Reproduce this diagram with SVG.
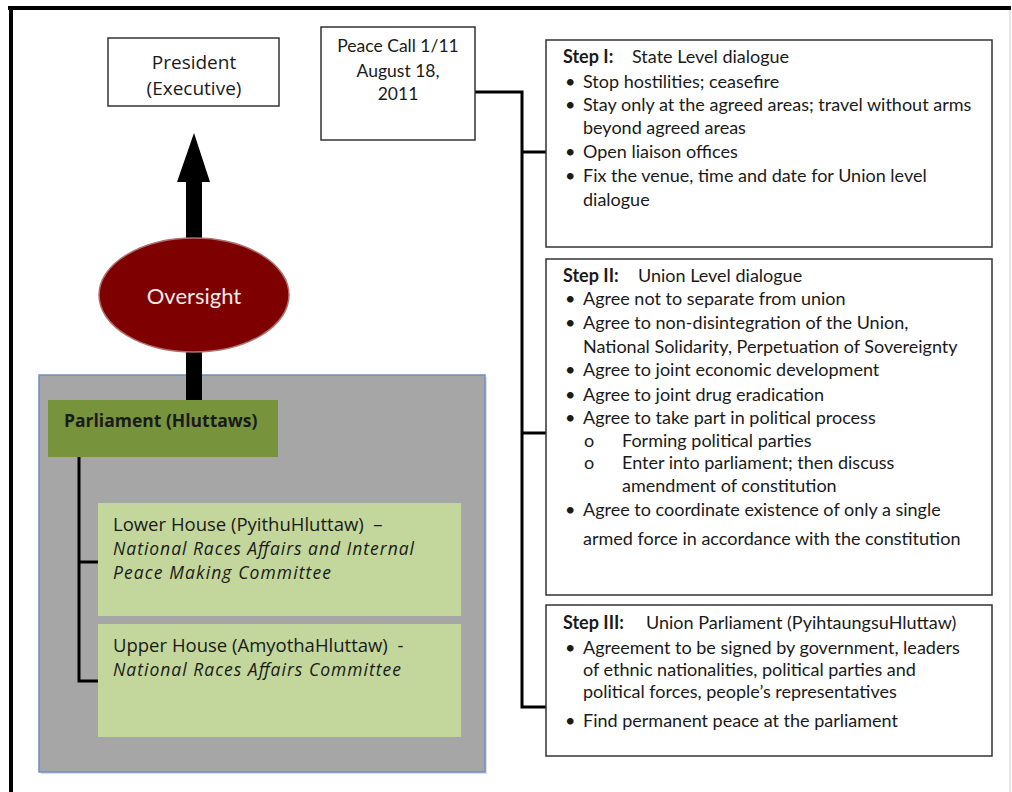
<svg xmlns="http://www.w3.org/2000/svg" width="1012" height="792" viewBox="0 0 1012 792">
<style>
text{font-family:Lato,"Liberation Sans",sans-serif;fill:#1a1a1a;font-size:18px}
.s{font-family:"Open Sans","DejaVu Sans",sans-serif;font-size:18.5px}
.box{fill:#fff;stroke:#333;stroke-width:1.5}
.c{text-anchor:middle}
.b{font-weight:bold}
.i{font-style:italic;font-size:17.5px}
.conn{fill:none;stroke:#000;stroke-width:3}
</style>
<rect width="1012" height="792" fill="#fff"/>
<g id="frame">
<line x1="8" y1="8" x2="1011" y2="8" stroke="#000" stroke-width="4"/>
<line x1="11" y1="6" x2="11" y2="792" stroke="#000" stroke-width="4"/>
<line x1="1010" y1="10" x2="1010" y2="792" stroke="#ccc" stroke-width="1"/>
</g>
<g id="parliament-area">
<rect x="41" y="377" width="446" height="397" fill="#ddd"/>
<rect x="39" y="375" width="446" height="397" fill="#a6a6a6" stroke="#6f8fc0" stroke-width="1.5"/>
</g>
<g id="connectors">
<polygon points="194,133 210,182 202,182 202,401 186,401 186,182 177,182" fill="#000"/>
<polyline class="conn" points="475,92 522,92 522,707 546,707"/>
<line class="conn" x1="522" y1="152" x2="546" y2="152"/>
<line class="conn" x1="522" y1="433" x2="546" y2="433"/>
<polyline class="conn" points="79,457 79,681 98,681"/>
<line class="conn" x1="79" y1="562" x2="98" y2="562"/>
</g>
<g id="president">
<rect class="box" x="108" y="38" width="171" height="68"/>
<text class="c s" x="194" y="69" style="font-size:19px">President</text>
<text class="c s" x="194" y="95" style="font-size:19px">(Executive)</text>
</g>
<g id="peace-call">
<rect class="box" x="321" y="27" width="154" height="113"/>
<text class="c" x="398" y="52" style="font-size:17.5px">Peace Call 1/11</text>
<text class="c" x="398" y="77" style="font-size:17.5px">August 18,</text>
<text class="c" x="398" y="100" style="font-size:17.5px">2011</text>
</g>
<g id="oversight">
<ellipse cx="194" cy="295" rx="95" ry="57" fill="#7f0000" stroke="#b07070" stroke-width="1.5"/>
<text class="c" x="194" y="304" style="fill:#f4e8e8;font-size:22px">Oversight</text>
</g>
<g id="parliament">
<rect x="48" y="400" width="230" height="57" fill="#77933c"/>
<text class="b s" x="64" y="427" style="font-size:17.5px">Parliament (Hluttaws)</text>
</g>
<g id="lower-house">
<rect x="98" y="503" width="363" height="113" fill="#c3d69b"/>
<text class="s" x="113" y="531">Lower House (PyithuHluttaw) &#160;–</text>
<text class="s i" x="113" y="555" textLength="301">National Races Affairs and Internal</text>
<text class="s i" x="113" y="579" textLength="218">Peace Making Committee</text>
</g>
<g id="upper-house">
<rect x="98" y="624" width="363" height="113" fill="#c3d69b"/>
<text class="s" x="113" y="652">Upper House (AmyothaHluttaw) &#160;-</text>
<text class="s i" x="113" y="676" textLength="288">National Races Affairs Committee</text>
</g>
<g id="step1">
<rect class="box" x="546" y="40" width="446" height="207"/>
<text x="563" y="63"><tspan class="b">Step I:</tspan><tspan x="632">State Level dialogue</tspan></text>
<text x="565" y="88">•</text><text x="583" y="88">Stop hostilities; ceasefire</text>
<text x="565" y="111">•</text><text x="583" y="111">Stay only at the agreed areas; travel without arms</text>
<text x="583" y="134">beyond agreed areas</text>
<text x="565" y="158">•</text><text x="583" y="158">Open liaison offices</text>
<text x="565" y="182">•</text><text x="583" y="182">Fix the venue, time and date for Union level</text>
<text x="583" y="206">dialogue</text>
</g>
<g id="step2">
<rect class="box" x="546" y="259" width="446" height="336"/>
<text x="563" y="282"><tspan class="b">Step II:</tspan><tspan x="638">Union Level dialogue</tspan></text>
<text x="565" y="305">•</text><text x="583" y="305">Agree not to separate from union</text>
<text x="565" y="329">•</text><text x="583" y="329">Agree to non-disintegration of the Union,</text>
<text x="583" y="353">National Solidarity, Perpetuation of Sovereignty</text>
<text x="565" y="376">•</text><text x="583" y="376">Agree to joint economic development</text>
<text x="565" y="401">•</text><text x="583" y="401">Agree to joint drug eradication</text>
<text x="565" y="424">•</text><text x="583" y="424">Agree to take part in political process</text>
<text x="584" y="447">o</text><text x="622" y="447">Forming political parties</text>
<text x="584" y="469">o</text><text x="622" y="469">Enter into parliament; then discuss</text>
<text x="622" y="492">amendment of constitution</text>
<text x="565" y="516">•</text><text x="583" y="516">Agree to coordinate existence of only a single</text>
<text x="583" y="545">armed force in accordance with the constitution</text>
</g>
<g id="step3">
<rect class="box" x="546" y="605" width="446" height="151"/>
<text x="563" y="629"><tspan class="b">Step III:</tspan><tspan x="646">Union Parliament (PyihtaungsuHluttaw)</tspan></text>
<text x="565" y="654">•</text><text x="583" y="654">Agreement to be signed by government, leaders</text>
<text x="583" y="676">of ethnic nationalities, political parties and</text>
<text x="583" y="698">political forces, people’s representatives</text>
<text x="565" y="727">•</text><text x="583" y="727">Find permanent peace at the parliament</text>
</g>
</svg>
